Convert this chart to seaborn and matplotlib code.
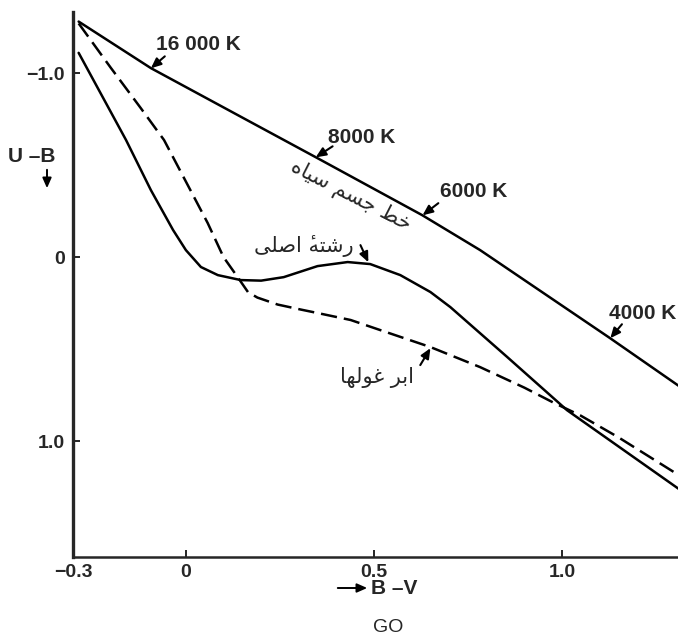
import matplotlib
matplotlib.use("Agg")
import matplotlib.pyplot as plt
import seaborn as sns
import numpy as np

# ---- data ----
bb_x = [-0.285, -0.093, 0.172, 0.345, 0.628, 0.782, 1.127, 1.31]
bb_y = [-1.28, -1.027, -0.734, -0.543, -0.228, -0.038, 0.44, 0.70]

ms_x = [-0.285, -0.159, -0.093, -0.034, 0.0, 0.04, 0.085, 0.146, 0.2, 0.26,
        0.35, 0.43, 0.49, 0.57, 0.65, 0.703, 0.854, 1.013, 1.31]
ms_y = [-1.11, -0.636, -0.364, -0.147, -0.038, 0.054, 0.098, 0.125, 0.128, 0.109,
        0.049, 0.027, 0.038, 0.098, 0.19, 0.272, 0.543, 0.832, 1.26]

sg_x = [-0.285, -0.2, -0.12, -0.058, 0.013, 0.058, 0.1, 0.138, 0.165, 0.19, 0.244,
        0.305, 0.35, 0.438, 0.517, 0.65, 0.782, 0.9, 0.976, 1.048, 1.15, 1.31]
sg_y = [-1.27, -1.03, -0.81, -0.636, -0.36, -0.185, 0.0, 0.11, 0.19, 0.22, 0.258,
        0.285, 0.304, 0.342, 0.397, 0.489, 0.598, 0.71, 0.79, 0.86, 0.98, 1.185]

x_ticks = [-0.3, 0, 0.5, 1.0]
x_tick_labels = ["\u22120.3", "0", "0.5", "1.0"]
y_ticks = [-1.0, 0, 1.0]
y_tick_labels = ["\u22121.0", "0", "1.0"]

temp_labels = ["16 000 K", "8000 K", "6000 K", "4000 K"]
temp_text_xy = [(0.032, -1.156), (0.467, -0.651), (0.764, -0.358), (1.215, 0.305)]
temp_arrow_tail = [(-0.056, -1.091), (0.390, -0.602), (0.671, -0.293), (1.159, 0.365)]
temp_arrow_tip = [(-0.093, -1.026), (0.345, -0.542), (0.629, -0.227), (1.128, 0.441)]

bb_label = "خط جسم سیاه"
ms_label = "رشتهٔ اصلی"
sg_label = "ابر غولها"

# ---- minimal Persian shaping (presentation forms, visual order) ----
FORMS = {
    'ا': ('\uFE8D', '\uFE8E', None, None),
    'ب': ('\uFE8F', '\uFE90', '\uFE91', '\uFE92'),
    'ت': ('\uFE95', '\uFE96', '\uFE97', '\uFE98'),
    'ج': ('\uFE9D', '\uFE9E', '\uFE9F', '\uFEA0'),
    'خ': ('\uFEA5', '\uFEA6', '\uFEA7', '\uFEA8'),
    'ر': ('\uFEAD', '\uFEAE', None, None),
    'س': ('\uFEB1', '\uFEB2', '\uFEB3', '\uFEB4'),
    'ش': ('\uFEB5', '\uFEB6', '\uFEB7', '\uFEB8'),
    'ص': ('\uFEB9', '\uFEBA', '\uFEBB', '\uFEBC'),
    'ط': ('\uFEC1', '\uFEC2', '\uFEC3', '\uFEC4'),
    'غ': ('\uFECD', '\uFECE', '\uFECF', '\uFED0'),
    'ل': ('\uFEDD', '\uFEDE', '\uFEDF', '\uFEE0'),
    'م': ('\uFEE1', '\uFEE2', '\uFEE3', '\uFEE4'),
    'ه': ('\uFEE9', '\uFEEA', '\uFEEB', '\uFEEC'),
    'و': ('\uFEED', '\uFEEE', None, None),
    'ی': ('\uFEEF', '\uFEF0', '\uFEF3', '\uFEF4'),
}
MARKS = {'\u0654'}


def shape(text):
    clusters = []
    for ch in text:
        if ch in MARKS and clusters:
            clusters[-1][1].append(ch)
        else:
            clusters.append([ch, []])
    out = []
    n = len(clusters)
    for i, (ch, marks) in enumerate(clusters):
        if ch not in FORMS:
            out.append(''.join(marks) + ch)
            continue
        prev = clusters[i - 1][0] if i > 0 else None
        nxt = clusters[i + 1][0] if i < n - 1 else None
        jp = prev in FORMS and FORMS[prev][2] is not None
        jn = nxt in FORMS and FORMS[ch][2] is not None
        iso, fin, ini, med = FORMS[ch]
        if jp and jn:
            g = med
        elif jp:
            g = fin
        elif jn:
            g = ini
        else:
            g = iso
        # in visual (left-to-right) order the zero-width mark goes before its base
        out.append(''.join(marks) + g)
    return ''.join(reversed(out))


# ---- figure ----
sns.set_style("ticks")
plt.rcParams['font.family'] = ['Liberation Sans', 'DejaVu Sans']

W, H = 678, 636
fig = plt.figure(figsize=(W / 100, H / 100), dpi=100)
ax = fig.add_axes([73 / W, (H - 557) / H, (W - 73) / W, 545 / H])

lw = 1.8
sns.lineplot(x=bb_x, y=bb_y, ax=ax, color='black', lw=lw, estimator=None, sort=False)
sns.lineplot(x=ms_x, y=ms_y, ax=ax, color='black', lw=lw, estimator=None, sort=False)
sns.lineplot(x=sg_x, y=sg_y, ax=ax, color='black', lw=lw, estimator=None, sort=False,
             linestyle=(0, (6.5, 2.8)))

ax.set_xlim(-0.3, 1.308)
ax.set_ylim(1.63, -1.332)

sns.despine(ax=ax)
ax.spines['left'].set_linewidth(2.4)
ax.spines['bottom'].set_linewidth(1.8)

ax.set_xticks(x_ticks)
ax.set_xticklabels(x_tick_labels)
ax.set_yticks(y_ticks)
ax.set_yticklabels(y_tick_labels)
ax.tick_params(direction='in', length=5, width=1.2, labelsize=14, color='black')
ax.tick_params(axis='x', pad=5)
ax.tick_params(axis='y', pad=6)
for t in ax.get_xticklabels() + ax.get_yticklabels():
    t.set_fontweight('bold')

arrow_kw = dict(arrowstyle='-|>,head_length=0.5,head_width=0.22', lw=1.5, color='black',
                shrinkA=0, shrinkB=0, mutation_scale=12)

for lab, txy, tail, tip in zip(temp_labels, temp_text_xy, temp_arrow_tail, temp_arrow_tip):
    ax.text(txy[0], txy[1], lab, fontsize=15, fontweight='bold', ha='center', va='center')
    ax.annotate('', xy=tip, xytext=tail, arrowprops=arrow_kw)

ax.text(0.438, -0.336, shape(bb_label), fontsize=15, family=['DejaVu Sans'],
        rotation=-27, rotation_mode='anchor', ha='center', va='center')
ax.text(0.313, -0.059, shape(ms_label), fontsize=15, family=['DejaVu Sans'],
        ha='center', va='center')
ax.annotate('', xy=(0.485, 0.028), xytext=(0.464, -0.065), arrowprops=arrow_kw)
ax.text(0.509, 0.652, shape(sg_label), fontsize=15, family=['DejaVu Sans'],
        ha='center', va='center')
ax.annotate('', xy=(0.65, 0.495), xytext=(0.623, 0.587), arrowprops=arrow_kw)


# axis labels (figure pixel coordinates)
def fx(px):
    return px / W


def fy(py):
    return 1 - py / H


fig.text(fx(32), fy(157), "U \u2013B", fontsize=15, fontweight='bold', ha='center', va='center')
fig.add_artist(matplotlib.patches.FancyArrowPatch((fx(47), fy(167)), (fx(47), fy(191)),
               transform=fig.transFigure, arrowstyle='-|>,head_length=0.5,head_width=0.22',
               mutation_scale=12, lw=1.4, color='black'))
fig.text(fx(394), fy(588), "B \u2013V", fontsize=15, fontweight='bold', ha='center', va='center')
fig.add_artist(matplotlib.patches.FancyArrowPatch((fx(335), fy(588)), (fx(370), fy(588)),
               transform=fig.transFigure, arrowstyle='-|>,head_length=0.5,head_width=0.22',
               mutation_scale=12, lw=1.4, color='black'))
fig.text(fx(388), fy(627), "GO", fontsize=14, ha='center', va='center')

fig.savefig("out.png", dpi=100)
